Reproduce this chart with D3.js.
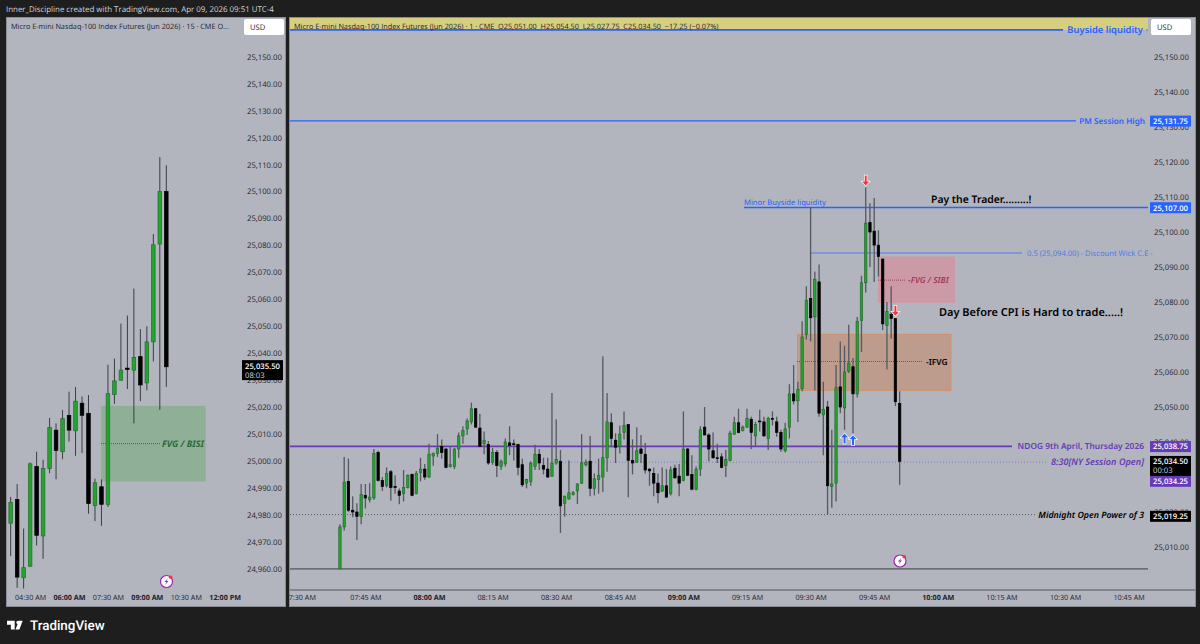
<!DOCTYPE html>
<html>
<head>
<meta charset="utf-8">
<script src="https://cdn.jsdelivr.net/npm/d3@7"></script>
<style>
  html, body { margin: 0; padding: 0; background: #1e1e1e; }
  svg { display: block; }
  text { font-family: "Open Sans", sans-serif; text-rendering: geometricPrecision; }
  .note { font-family: "Noto Sans", sans-serif; }
</style>
</head>
<body>
<div id="chart"></div>
<script>
// 15 minute chart, first bar 03:45
var m15Opens = [24977,24985.75,24956.75,24961,24998,24972.25,24997.25,25011.5,25003.5,25017,25011.25,25021.5,25017.75,24983.5,24990.5,24984,25024.75,25030,25034.5,25033.75,25038.75,25029,25044.25,25080.5,25100];
var m15Highs = [24986.75,24991.5,24975,24999.5,25003.5,25000.5,25016,25014,25019,25025.75,25027.5,25024,25024.5,24993.5,24993.25,25035.75,25038,25051,25054,25064,25049,25050,25084.25,25112.75,25109.75];
var m15Lows = [24964.75,24953,24952.75,24961,24968.75,24963.75,24995.5,24993.25,25000.75,25007.25,25002,25003,24980.5,24977.75,24976,24983,25021.25,25030,25026.75,25014,25022.25,25026.25,25037,25019,25027.5];
var m15Closes = [24984.75,24957,24960.5,24999,24972.5,24997.25,25012.5,25004,25015.75,25011.5,25022.25,25017,24984.25,24992,24984,25025,25029.75,25033.75,25034,25038.5,25028.25,25044.25,25080.25,25100,25035];

// 1 minute chart, first bar 07:39
var m1Opens = [25003.75,25015.75,25028.75,25020.5,25020,25018.75,25024.75,25023.5,25024,25037,
  25029,25027.5,25031.5,25027.25,25026,25025.25,25027,25030.75,25025.25,25031.25,
  25032.25,25030,25036,25036.75,25038.75,25038,25033,25033,25038,25041.75,
  25043.75,25045.75,25049.5,25044,25039.5,25039.25,25034.25,25037,25033,25033.75,
  25039.75,25039.5,25039.25,25033.5,25028.25,25028.75,25033,25036.5,25033.25,25032.25,
  25030.25,25034,25034.5,25022.5,25023.75,25025,25026,25028.25,25033.5,25034.5,
  25026.75,25029.25,25030,25035.5,25045.5,25040.5,25038.75,25042.75,25045,25034.75,
  25034.25,25038,25036.5,25032.25,25031,25028.25,25026,25027.5,25025.25,25032.5,
  25030.25,25029,25038,25030.75,25026.5,25032.25,25044.25,25042,25037.5,25035.5,
  25035.75,25033.25,25034.75,25042.25,25045.5,25043.25,25044.25,25046.5,25041.75,25046,
  25045.75,25041,25046.75,25045.75,25042.75,25037.5,25044.25,25053.75,25051.75,25055.25,
  25070.75,25081,25075.75,25085.75,25047.75,25050,25027.25,25028.25,25055.75,25049.75,
  25060.25,25061.5,25053.75,25074.75,25085.5,25102.75,25100.25,25096.25,25092.25,25073.25,
  25076.5,25075.25,25051];
var m1Highs = [25016.5,25035.75,25035.25,25024.5,25022.5,25028,25028,25028.25,25038,25037.5,
  25030,25032.75,25032,25030.5,25026.75,25032,25030.75,25031,25031.75,25035.5,
  25033.75,25039.5,25037,25042.25,25040.75,25038.25,25038.75,25038.25,25042.75,25044.5,
  25046.75,25051.25,25049.75,25048,25043,25040.25,25038.25,25037.75,25035,25041,
  25044.5,25040.75,25039.5,25035.25,25029.5,25034.5,25039.25,25038,25035.5,25035.5,
  25054,25046.5,25037.75,25024.75,25034.75,25026,25028.25,25042.25,25035,25041.75,
  25031,25035.25,25064.5,25054,25048.25,25042.5,25044.75,25048.75,25045,25040.75,
  25044.25,25042,25039.75,25032.5,25032.75,25031,25032.75,25032.25,25033,25033.5,
  25033.75,25048.75,25038.25,25036.25,25033,25044.5,25050,25042.5,25042.75,25039.5,
  25036.75,25037.75,25043.25,25047.25,25049.5,25044.75,25049.5,25047.25,25045.75,25049.25,
  25047.25,25047.25,25048.75,25047.25,25043.5,25045.5,25056.5,25062,25057.25,25074.5,
  25084.5,25107,25088.75,25090.75,25057.25,25051.75,25043.5,25062,25068.75,25067.5,
  25073.5,25064,25075.75,25087.5,25112.75,25108.25,25109.75,25100.5,25092.5,25080,
  25084.5,25075.25,25054.5];
var m1Lows = [25003.75,25014.75,25020,25018.5,25012,25016.5,25021,25022.75,25023.5,25028.75,
  25026,25027,25023.25,25025.25,25022.25,25023,25026.75,25024.5,25025,25028.75,
  25029.25,25029.75,25033.25,25035.75,25035.25,25032.5,25032.75,25032.25,25035.5,25039.5,
  25042,25045,25044,25038.75,25036.5,25033.5,25033.5,25030,25032,25033,
  25036.25,25034.75,25030.5,25027.25,25026.75,25027.5,25032,25032,25030.75,25029.75,
  25030,25033.5,25014,25018.75,25023.5,25024.75,25022.25,25028,25033,25024.5,
  25024.75,25025.25,25025.75,25031.5,25038.5,25034,25036.75,25040.75,25024.25,25030.75,
  25034,25034,25031,25027.5,25024.5,25022.5,25025.75,25024,25024.75,25029.5,
  25024.5,25028.75,25030.25,25026.25,25026.25,25030.25,25042,25034.5,25035.25,25034,
  25032.5,25030,25034.5,25042,25042.5,25043,25044,25038,25038.75,25043,
  25041.5,25037.75,25044.75,25041.5,25037.25,25037,25041,25050.75,25045.75,25054.5,
  25069.25,25068.75,25054.75,25047.25,25036.25,25019.25,25021.25,25023,25048.25,25043.5,
  25059.75,25042.5,25052.75,25065.75,25082.75,25090,25085.75,25087.25,25072,25060.75,
  25069.5,25050.25,25027.75];
var m1Closes = [25015.75,25028.5,25020.5,25020,25018.75,25025,25024,25024.25,25036.75,25029,
  25027.25,25031,25027,25027,25024.75,25027,25030.5,25024.75,25031,25032.25,
  25030,25036.5,25036.75,25038.25,25037,25032.75,25033.5,25038,25041.75,25043.25,
  25046,25049.5,25044.25,25038.75,25040.5,25034,25037,25033.25,25034.5,25040,
  25039,25039.25,25032.75,25027.75,25029.25,25034,25036.5,25034,25032.25,25030,
  25034,25035,25021.75,25024.5,25025.5,25025.5,25028,25034,25034.25,25026.75,
  25029.5,25030.5,25035.5,25045.75,25041,25038.5,25042.25,25044.75,25034.75,25034,
  25037.5,25036.75,25032,25031.75,25028.25,25025.5,25027.5,25024.25,25032,25029.75,
  25028.25,25038,25030.5,25026.5,25032.25,25043.5,25042,25038,25035.5,25035.25,
  25032.75,25035,25042.5,25045.5,25042.75,25044.25,25046.75,25042.75,25045,25045.75,
  25041.75,25046.75,25046.5,25042.75,25038,25043.75,25053.75,25051.75,25055,25070,
  25080.5,25075.5,25086.5,25048.25,25049.25,25027.5,25028,25055.5,25050,25060,
  25062.5,25053.75,25074.5,25085.5,25102.5,25100,25096.25,25093,25073.75,25077.25,
  25075.25,25051.5,25034.5];

var leftPriceTicks = [25150,25140,25130,25120,25110,25100,25090,25080,25070,25060,25050,25040,25030,25020,25010,25000,24990,24980,24970,24960];
var rightPriceTicks = [25150,25140,25130,25120,25110,25100,25090,25080,25070,25060,25050,25040,25020,25010];
var leftTimes = [270,360,450,540,630,720];
var leftTimeLabels = ["04:30 AM","06:00 AM","07:30 AM","09:00 AM","10:30 AM","12:00 PM"];
var leftTimeMajor = ["06:00 AM","09:00 AM","12:00 PM"];
var rightTimes = [450,465,480,495,510,525,540,555,570,585,600,615,630,645];
var rightTimeLabels = ["7:30 AM","07:45 AM","08:00 AM","08:15 AM","08:30 AM","08:45 AM","09:00 AM","09:15 AM","09:30 AM","09:45 AM","10:00 AM","10:15 AM","10:30 AM","10:45 AM"];
var rightTimeMajor = ["08:00 AM","09:00 AM","10:00 AM"];

var bull = "#22a52e", bullEdge = "#2a6a33", bear = "#000000";
var blue = "#2962ff", purple = "#673ab7";

var svg = d3.select("#chart").append("svg").attr("width", 1200).attr("height", 644);

//panels
var leftPanel = {x: 6, y: 17, w: 280, h: 590};
var rightPanel = {x: 289, y: 17, w: 907, h: 590};
[leftPanel, rightPanel].forEach(function (p) {
  svg.append("rect").attr("x", p.x + 0.5).attr("y", p.y + 0.5).attr("width", p.w - 1).attr("height", p.h - 1)
    .attr("fill", "#b2b5be").attr("stroke", "#8b8d94");
});
svg.append("rect").attr("x", 290).attr("y", 18).attr("width", 858).attr("height", 12).attr("fill", "#d6cf80");
svg.append("line").attr("x1", 290).attr("x2", 1195).attr("y1", 590).attr("y2", 590).attr("stroke", "#70737a").attr("stroke-width", 1.5);

svg.append("text").attr("x", 6).attr("y", 12).attr("fill", "#d1d4dc").attr("font-size", 7.9)
  .text("Inner_Discipline created with TradingView.com, Apr 09, 2026 09:51 UTC-4");

//scales
var yLeft = d3.scaleLinear().domain([24960, 25150]).range([569, 56.7]);
var yRight = d3.scaleLinear().domain([25010, 25150]).range([547, 57]);
var xLeft = d3.scaleLinear().domain([225, 585]).range([10.67, 166.3]);
var xRight = d3.scaleLinear().domain([480, 645]).range([429, 1128.6]);

svg.append("clipPath").attr("id", "clipRight").append("rect").attr("x", 290).attr("y", 17).attr("width", 858).attr("height", 573);

var gLeft = svg.append("g"), gRight = svg.append("g").attr("clip-path", "url(#clipRight)");

//left zone drawn under the bars
var fvgTop = 25020.5, fvgBottom = 24992.5, fvgMid = 25006.5;
gLeft.append("rect").attr("x", xLeft(434)).attr("width", 104.7)
  .attr("y", yLeft(fvgTop)).attr("height", yLeft(fvgBottom) - yLeft(fvgTop)).attr("fill", "#8fb097");
gLeft.append("line").attr("x1", xLeft(434)).attr("x2", 160).attr("y1", yLeft(fvgMid)).attr("y2", yLeft(fvgMid))
  .attr("stroke", "#3c6a48").attr("stroke-dasharray", "1 1");
gLeft.append("text").attr("class", "note").attr("x", 162).attr("y", yLeft(fvgMid) + 3).attr("font-size", 9)
  .attr("font-weight", 700).attr("font-style", "italic").attr("fill", "#2c6b3a").text("FVG / BISI");

//right zones and levels
function level(price, x1, x2, color, width, dash) {
  return gRight.append("line").attr("x1", x1).attr("x2", x2).attr("y1", yRight(price)).attr("y2", yRight(price))
    .attr("stroke", color).attr("stroke-width", width).attr("stroke-dasharray", dash || null);
}
gRight.append("rect").attr("x", 878).attr("width", 77).attr("y", yRight(25093)).attr("height", yRight(25079.75) - yRight(25093)).attr("fill", "#cc9aa7");
gRight.append("rect").attr("x", 797.5).attr("width", 153.5).attr("y", yRight(25070.75)).attr("height", yRight(25054.75) - yRight(25070.75))
  .attr("fill", "#bd9b8d").attr("stroke", "#cf9270");
level(25157.75, 290, 1063, blue, 1.6);
level(25131.75, 290, 1076, blue, 1.4);
level(25107, 744, 1148, blue, 1.4);
level(25094, 811, 1022, "#4f7bea", 1);
level(25086.25, 878, 905, "#8a4a58", 1, "1 1");
level(25063, 797, 922, "#6b5a50", 1, "1 1");
level(25038.75, 290, 1012, purple, 1.6);
level(25034.25, 556, 1048, "#8a76c2", 1, "1 2");
level(25019.25, 290, 1035, "#55585e", 1, "1 2");
level(25003.75, 290, 1148, "#6d7076", 1.6);

function drawBars(g, x, y, minutes, opens, highs, lows, closes, bodyW, wickColor, wickW) {
  var bars = minutes.map(function (m, i) {
    return {m: m, o: opens[i], h: highs[i], l: lows[i], c: closes[i]};
  });
  g.selectAll("line.wick").data(bars).enter().append("line").attr("class", "wick")
    .attr("x1", function (d) { return x(d.m); })
    .attr("x2", function (d) { return x(d.m); })
    .attr("y1", function (d) { return y(d.h); })
    .attr("y2", function (d) { return y(d.l); })
    .attr("stroke", wickColor).attr("stroke-width", wickW);
  g.selectAll("rect.body").data(bars).enter().append("rect").attr("class", "body")
    .attr("x", function (d) { return x(d.m) - bodyW / 2; })
    .attr("width", bodyW)
    .attr("y", function (d) { return y(Math.max(d.o, d.c)); })
    .attr("height", function (d) { return Math.max(0.8, Math.abs(y(d.o) - y(d.c))); })
    .attr("fill", function (d) { return d.c > d.o ? bull : bear; })
    .attr("stroke", function (d) { return d.c > d.o ? bullEdge : bear; })
    .attr("stroke-width", 0.7);
}
drawBars(gLeft, xLeft, yLeft, m15Opens.map(function (d, i) { return 225 + i * 15; }), m15Opens, m15Highs, m15Lows, m15Closes, 3.6, "#3a3d42", 1);
drawBars(gRight, xRight, yRight, m1Opens.map(function (d, i) { return 459 + i; }), m1Opens, m1Highs, m1Lows, m1Closes, 2.4, "#55585e", 1.3);

//axes
function priceAxis(scale, ticks, xPos) {
  var g = svg.append("g").attr("transform", "translate(" + xPos + ",0)")
    .call(d3.axisRight(scale).tickValues(ticks).tickSize(0).tickPadding(0).tickFormat(d3.format(",.2f")));
  g.select(".domain").remove();
  g.selectAll("text").attr("font-size", 7.7).attr("fill", "#1e222d").style("font-family", "\"Open Sans\", sans-serif");
}
priceAxis(yLeft, leftPriceTicks, 247);
priceAxis(yRight, rightPriceTicks, 1154);

function timeAxis(scale, ticks, labels, major, yPos) {
  var g = svg.append("g").attr("transform", "translate(0," + yPos + ")")
    .call(d3.axisBottom(scale).tickValues(ticks).tickSize(0).tickPadding(0)
      .tickFormat(function (d, i) { return labels[i]; }));
  g.select(".domain").remove();
  g.selectAll("text").attr("font-size", 7.2).attr("fill", "#1e222d").style("font-family", "\"Open Sans\", sans-serif")
    .attr("font-weight", function (d, i) { return major.indexOf(labels[i]) >= 0 ? 700 : 400; });
}
timeAxis(xLeft, leftTimes, leftTimeLabels, leftTimeMajor, 595);
timeAxis(xRight, rightTimes, rightTimeLabels, rightTimeMajor, 595);

//headers
svg.append("text").attr("x", 11).attr("y", 29).attr("font-size", 7.3).attr("fill", "#1e222d")
  .text("Micro E-mini Nasdaq-100 Index Futures (Jun 2026) · 15 · CME  O...");
svg.append("text").attr("x", 294).attr("y", 29).attr("font-size", 7.3).attr("fill", "#1e222d").attr("xml:space", "preserve")
  .text("Micro E-mini Nasdaq-100 Index Futures (Jun 2026) · 1 · CME  O25,051.00  H25,054.50  L25,027.75  C25,034.50  −17.25 (−0.07%)");

function usdBox(x) {
  svg.append("rect").attr("x", x).attr("y", 19).attr("width", 40).attr("height", 16).attr("rx", 2).attr("fill", "#ffffff");
  svg.append("text").attr("x", x + 6).attr("y", 30).attr("font-size", 7.6).attr("fill", "#1e222d").text("USD");
}
usdBox(244);
usdBox(1151);

//price labels on the scale
function priceTag(price, scale, x, w, bg, lines, shift) {
  var h = lines.length > 1 ? 20 : 11;
  var top = scale(price) - 5.3 + (shift || 0);
  svg.append("rect").attr("x", x).attr("y", top).attr("width", w).attr("height", h).attr("fill", bg);
  lines.forEach(function (t, i) {
    svg.append("text").attr("x", x + 3).attr("y", top + 8.4 + i * 9).attr("font-size", 7.7)
      .attr("font-weight", i === 0 ? 600 : 400).attr("fill", i === 0 ? "#ffffff" : "#d1d4dc").text(t);
  });
}
priceTag(25131.75, yRight, 1150, 41, blue, ["25,131.75"]);
priceTag(25107, yRight, 1150, 41, blue, ["25,107.00"]);
priceTag(25038.75, yRight, 1150, 41, purple, ["25,038.75"]);
priceTag(25034.25, yRight, 1150, 41, purple, ["25,034.25"], 19);
priceTag(25034.5, yRight, 1150, 41, bear, ["25,034.50", "00:03"]);
priceTag(25019.25, yRight, 1150, 41, bear, ["25,019.25"], 1.5);
priceTag(25035.5, yLeft, 242, 41, bear, ["25,035.50", "08:03"]);

//annotations
function note(x, price, txt, size, color, opts) {
  opts = opts || {};
  svg.append("text").attr("class", "note").attr("x", x).attr("y", yRight(price) + (opts.dy || 3))
    .attr("font-size", size).attr("fill", color)
    .attr("font-weight", opts.weight || 400).attr("font-style", opts.italic ? "italic" : null)
    .attr("text-anchor", opts.anchor || "start").text(txt);
}
note(1143, 25157.75, "Buyside liquidity", 9.4, blue, {anchor: "end", weight: 600});
svg.append("circle").attr("cx", 1147).attr("cy", yRight(25157.75)).attr("r", 0.7).attr("fill", blue);
note(1145, 25131.75, "PM Session High", 8.2, blue, {anchor: "end", weight: 600});
note(744, 25107, "Minor Buyside liquidity", 7.6, blue, {dy: -3});
note(931, 25107, "Pay the Trader.........!", 10.4, "#000000", {dy: -5, weight: 600});
note(1027, 25094, "0.5 (25,094.00) - Discount Wick C.E -", 7.6, "#4f7bea");
note(908, 25086.25, "-FVG / SIBI", 8.4, "#a33a52", {weight: 600, italic: true});
note(926, 25063, "-IFVG", 8.4, "#000000", {weight: 600});
note(939, 25077, "Day Before CPI is Hard to trade.....!", 11, "#000000", {weight: 600});
note(1144, 25038.75, "NDOG 9th April, Thursday 2026", 8.4, purple, {anchor: "end", weight: 600});
note(1144, 25034.25, "8:30[NY Session Open]", 9.1, purple, {anchor: "end", italic: true, weight: 600});
note(1144, 25019.25, "Midnight Open Power of 3", 8.8, "#000000", {anchor: "end", italic: true, weight: 600});

//arrows over the bars
var arrowShape = [[-1, -5], [1, -5], [1, 1], [3.6, 1], [0, 5], [-3.6, 1], [-1, 1]];
function arrow(minute, price, flip, color) {
  svg.append("path").attr("d", d3.line()(arrowShape) + "Z")
    .attr("transform", "translate(" + xRight(minute) + "," + yRight(price) + ") scale(1," + (flip ? -1 : 1) + ")")
    .attr("fill", color).attr("stroke", "#ffffff").attr("stroke-width", 1.4)
    .style("paint-order", "stroke");
}
arrow(583, 25114.75, false, "#f23645");
arrow(590, 25077.5, false, "#f23645");
arrow(578, 25041, true, "#2962ff");
arrow(580, 25040.5, true, "#2962ff");

//lightning marks
function bolt(x, y) {
  var g = svg.append("g").attr("transform", "translate(" + x + "," + y + ")");
  g.append("circle").attr("r", 6).attr("fill", "#ffffff").attr("stroke", "#9c27b0").attr("stroke-width", 1.2);
  g.append("path").attr("d", d3.line()([[1.5, -3.5], [-2, 0.5], [0, 0.5], [-1.5, 3.5], [2, -0.5], [0, -0.5]]) + "Z").attr("fill", "#9c27b0");
  g.append("circle").attr("cx", 4.2).attr("cy", -4.2).attr("r", 1.8).attr("fill", "#f23645");
}
bolt(166.5, 581.5);
bolt(900, 561);

//footer logo
var logo = svg.append("g").attr("transform", "translate(7,617.5) scale(0.55)").attr("fill", "#ffffff");
logo.append("path").attr("d", "M14 6H0v7h7v9h7V6Zm8.5 16h-7l6-16h7l-6 16Z");
logo.append("circle").attr("cx", 20).attr("cy", 9).attr("r", 3);
svg.append("text").attr("x", 30).attr("y", 630).attr("font-size", 13.4).attr("font-weight", 500).style("font-family", "Roboto, sans-serif").attr("fill", "#ffffff").text("TradingView");
</script>
</body>
</html>
